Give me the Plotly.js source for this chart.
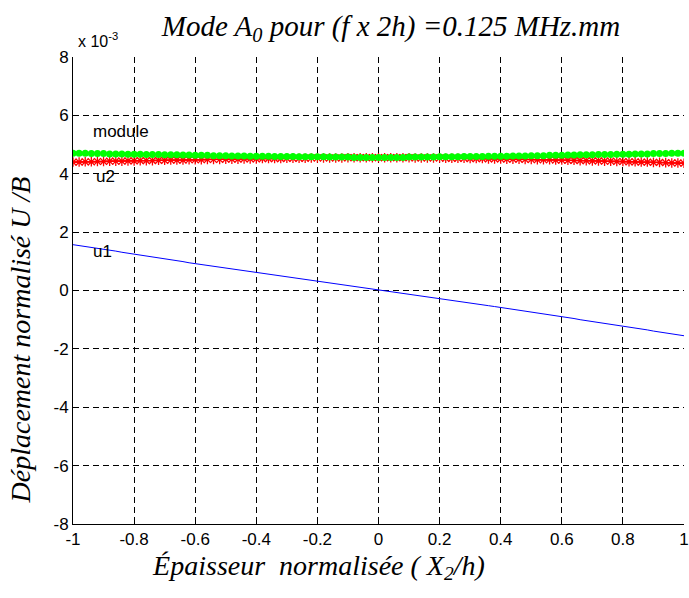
<!DOCTYPE html>
<html>
<head>
<meta charset="utf-8">
<script src="https://cdn.plot.ly/plotly-3.0.1.min.js"></script>
<style>html,body{margin:0;padding:0;background:#fff;}</style>
</head>
<body>
<div id="chart" style="width:689px;height:598px;"></div>
<script>
// Normalised thickness X2/h
const xPos = [-1.00,-0.98,-0.96,-0.94,-0.92,-0.90,-0.88,-0.86,-0.84,-0.82,-0.80,
  -0.78,-0.76,-0.74,-0.72,-0.70,-0.68,-0.66,-0.64,-0.62,-0.60,
  -0.58,-0.56,-0.54,-0.52,-0.50,-0.48,-0.46,-0.44,-0.42,-0.40,
  -0.38,-0.36,-0.34,-0.32,-0.30,-0.28,-0.26,-0.24,-0.22,-0.20,
  -0.18,-0.16,-0.14,-0.12,-0.10,-0.08,-0.06,-0.04,-0.02,0.00,
  0.02,0.04,0.06,0.08,0.10,0.12,0.14,0.16,0.18,0.20,
  0.22,0.24,0.26,0.28,0.30,0.32,0.34,0.36,0.38,0.40,
  0.42,0.44,0.46,0.48,0.50,0.52,0.54,0.56,0.58,0.60,
  0.62,0.64,0.66,0.68,0.70,0.72,0.74,0.76,0.78,0.80,
  0.82,0.84,0.86,0.88,0.90,0.92,0.94,0.96,0.98,1.00];
// values in units of 1e-3
const u1 = [1.57,1.54,1.52,1.48,1.45,1.41,1.38,1.35,1.31,1.28,1.24,
  1.21,1.18,1.15,1.12,1.08,1.05,1.02,0.99,0.95,0.92,
  0.89,0.86,0.83,0.79,0.76,0.73,0.70,0.67,0.63,0.60,
  0.57,0.54,0.51,0.48,0.45,0.42,0.39,0.36,0.33,0.30,
  0.27,0.24,0.21,0.18,0.15,0.12,0.09,0.06,0.03,0.00,
  -0.03,-0.06,-0.09,-0.12,-0.14,-0.17,-0.20,-0.23,-0.26,-0.29,
  -0.32,-0.35,-0.38,-0.41,-0.44,-0.46,-0.49,-0.52,-0.55,-0.58,
  -0.61,-0.64,-0.67,-0.71,-0.74,-0.77,-0.80,-0.83,-0.87,-0.90,
  -0.93,-0.96,-1.00,-1.03,-1.06,-1.09,-1.12,-1.16,-1.19,-1.22,
  -1.26,-1.29,-1.32,-1.35,-1.39,-1.42,-1.45,-1.48,-1.52,-1.55];
const u2 = [4.40,4.40,4.41,4.41,4.42,4.42,4.43,4.43,4.43,4.44,4.44,
  4.45,4.45,4.45,4.46,4.46,4.47,4.47,4.47,4.48,4.48,
  4.48,4.49,4.49,4.49,4.50,4.50,4.50,4.51,4.51,4.51,
  4.52,4.52,4.52,4.52,4.53,4.53,4.53,4.53,4.54,4.54,
  4.54,4.54,4.54,4.54,4.55,4.55,4.55,4.55,4.55,4.55,
  4.55,4.55,4.55,4.55,4.55,4.54,4.54,4.54,4.54,4.54,
  4.53,4.53,4.53,4.53,4.52,4.52,4.52,4.51,4.51,4.51,
  4.50,4.50,4.50,4.49,4.49,4.48,4.48,4.48,4.47,4.47,
  4.46,4.46,4.45,4.45,4.44,4.44,4.43,4.43,4.42,4.42,
  4.41,4.41,4.40,4.40,4.39,4.39,4.38,4.37,4.37,4.36];
const moduleVals = [4.70,4.70,4.70,4.69,4.69,4.69,4.68,4.68,4.68,4.67,4.67,
  4.67,4.66,4.66,4.66,4.65,4.65,4.65,4.64,4.64,4.63,
  4.63,4.63,4.62,4.62,4.62,4.61,4.61,4.61,4.60,4.60,
  4.60,4.60,4.59,4.59,4.59,4.59,4.58,4.58,4.58,4.58,
  4.58,4.57,4.57,4.57,4.57,4.56,4.56,4.56,4.56,4.56,
  4.56,4.56,4.56,4.56,4.57,4.57,4.57,4.57,4.57,4.58,
  4.58,4.58,4.58,4.59,4.59,4.59,4.59,4.60,4.60,4.60,
  4.60,4.61,4.61,4.61,4.62,4.62,4.62,4.63,4.63,4.63,
  4.64,4.64,4.65,4.65,4.65,4.66,4.66,4.66,4.67,4.67,
  4.67,4.68,4.68,4.68,4.69,4.69,4.69,4.70,4.70,4.70];
const xTickVals = [-1,-0.8,-0.6,-0.4,-0.2,0,0.2,0.4,0.6,0.8,1];
const xTickText = ['-1','-0.8','-0.6','-0.4','-0.2','0','0.2','0.4','0.6','0.8','1'];
const yTickVals = [-8,-6,-4,-2,0,2,4,6,8];
const yTickText = ['-8','-6','-4','-2','0','2','4','6','8'];
const curveLabels = ['module','u2','u1'];
const labelX = [-0.94,-0.93,-0.94];
const labelY = [5.45,3.9,1.33];

const sans = 'Arial, "Liberation Sans", Helvetica, sans-serif';
const serif = '"Times New Roman", "Liberation Serif", Times, serif';

const traces = [
  {x:xPos, y:u1, type:'scatter', mode:'lines', name:'u1',
   line:{color:'#0000ff', width:1}},
  {x:xPos, y:u2, type:'scatter', mode:'lines+markers', name:'u2',
   line:{color:'#ff0000', width:1.5},
   marker:{symbol:'asterisk-open', size:8, color:'#ff0000', line:{color:'#ff0000', width:1.3}}},
  {x:xPos, y:moduleVals, type:'scatter', mode:'lines+markers', name:'module',
   line:{color:'#00ff00', width:1},
   marker:{symbol:'circle', size:7, color:'#00ff00', line:{width:0}}}
];

const annotations = curveLabels.map((t,i)=>({
  x:labelX[i], y:labelY[i], xref:'x', yref:'y', text:t, showarrow:false,
  xanchor:'left', yanchor:'middle', font:{family:sans, size:17, color:'#000'}
}));
annotations.push({
  x:(76-73)/611, y:1+(57-40)/467, xref:'paper', yref:'paper',
  text:'x 10<sup>-3</sup>', showarrow:false, xanchor:'left', yanchor:'middle',
  font:{family:sans, size:16, color:'#000'}
});

const nb = '&nbsp;';
const layout = {
  width:689, height:598,
  margin:{l:73, r:5, t:57, b:74},
  paper_bgcolor:'#fff', plot_bgcolor:'#fff',
  showlegend:false,
  title:{text:'<i>Mode A<sub>0</sub> pour (f x 2h) =0.125 MHz.mm</i>',
    font:{family:serif, size:29, color:'#000'},
    xref:'paper', x:(391-73)/611, xanchor:'center',
    yref:'container', y:1-26/598, yanchor:'middle'},
  xaxis:{range:[-1,1], tickvals:xTickVals, ticktext:xTickText,
    showgrid:true, gridcolor:'#000', griddash:'6px,4px', gridwidth:1,
    zeroline:false, showline:true, linecolor:'#000', linewidth:1, mirror:false,
    ticks:'inside', ticklen:5, tickcolor:'#000',
    tickfont:{family:sans, size:17, color:'#000'},
    title:{text:'<i>Épaisseur  normalisée ( X<sub>2</sub>/h)</i>' + nb.repeat(17),
      font:{family:serif, size:28, color:'#000'}, standoff:6}},
  yaxis:{range:[-8,8], tickvals:yTickVals, ticktext:yTickText,
    showgrid:true, gridcolor:'#000', griddash:'6px,4px', gridwidth:1,
    zeroline:false, showline:true, linecolor:'#000', linewidth:1, mirror:false,
    ticks:'inside', ticklen:5, tickcolor:'#000',
    tickfont:{family:sans, size:17, color:'#000'},
    title:{text:'<i>Déplacement normalisé U /B</i>' + nb.repeat(14),
      font:{family:serif, size:28, color:'#000'}, standoff:14}},
  annotations:annotations
};

Plotly.newPlot('chart', traces, layout, {displayModeBar:false, staticPlot:true});
</script>
</body>
</html>
